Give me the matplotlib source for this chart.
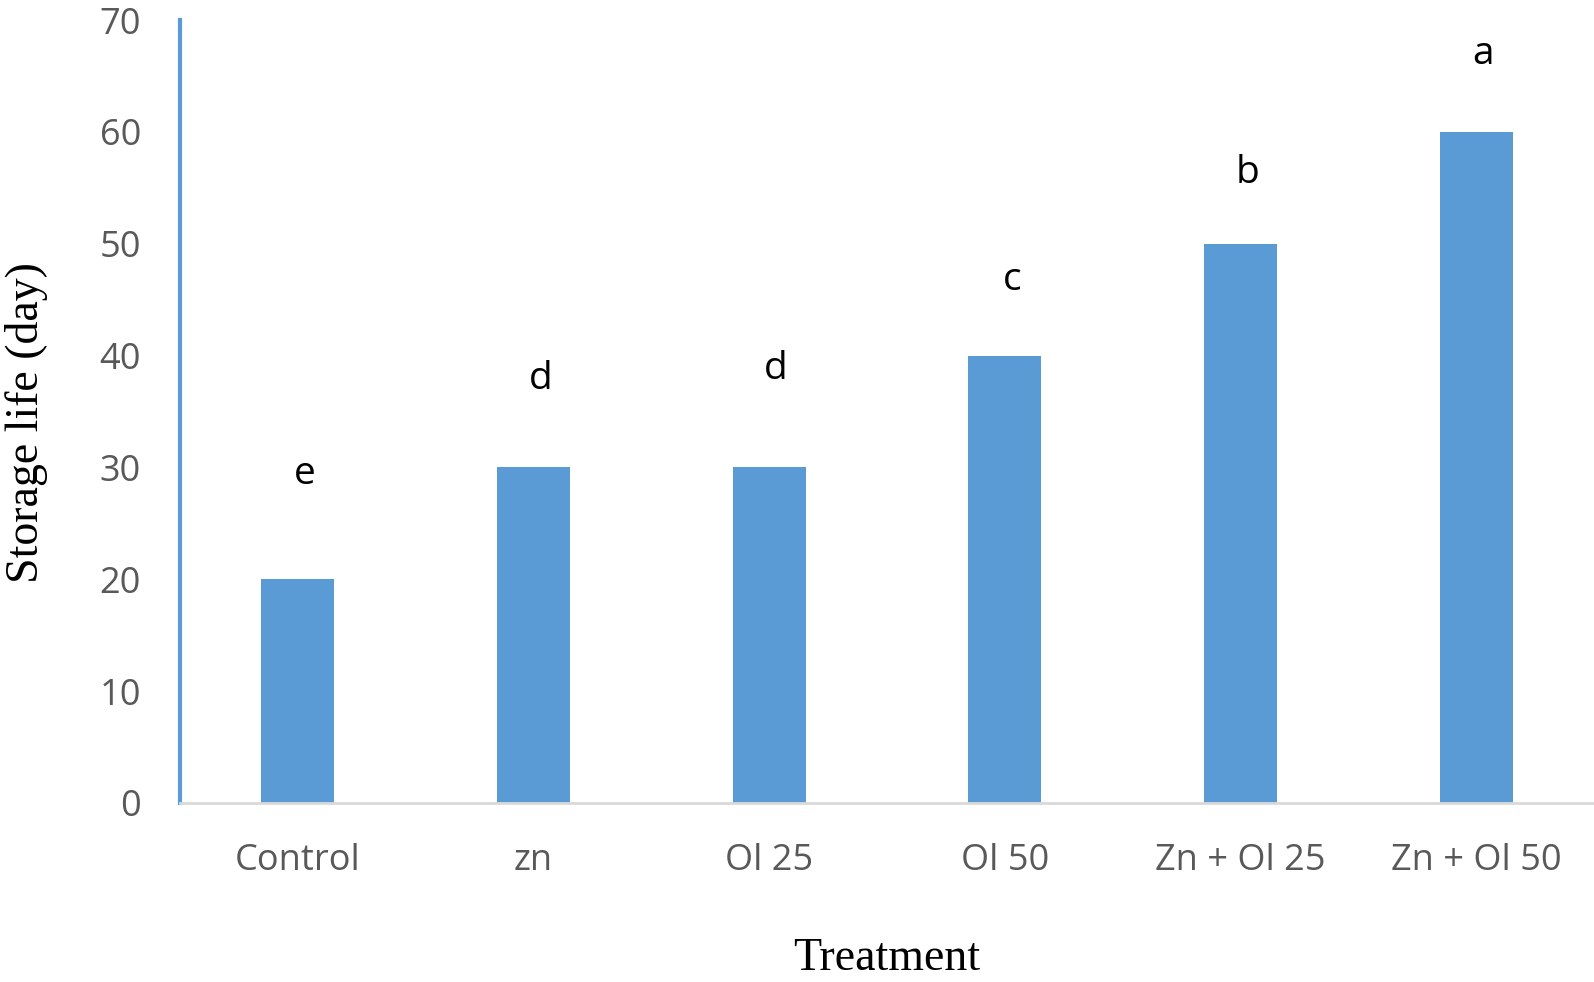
import matplotlib.pyplot as plt

treatments = ['Control', 'zn', 'Ol 25', 'Ol 50', 'Zn + Ol 25', 'Zn + Ol 50']
storage_life = [20, 30, 30, 40, 50, 60]
letters = ['e', 'd', 'd', 'c', 'b', 'a']
letter_y = [29.4, 37.9, 38.8, 46.8, 56.3, 67.0]

plt.close('all')
fig = plt.figure(figsize=(15.94, 9.82), dpi=100)
ax = fig.add_axes([180 / 1594, 1 - 803 / 982, 1 - 180 / 1594, 783 / 982])

x = range(len(treatments))
ax.bar(x, storage_life, width=0.31, color='#5b9bd5', zorder=2)

for i, (lab, ly) in enumerate(zip(letters, letter_y)):
    ax.text(i + 0.03, ly, lab, ha='center', va='center', fontsize=28,
            family='Open Sans', color='black')

ax.set_xlim(-0.5, 5.5)
ax.set_ylim(0, 70)
ax.set_yticks(range(0, 71, 10))
ax.set_xticks(list(x))
ax.set_xticklabels(treatments)
ax.tick_params(length=0, labelsize=26, labelcolor='#595959')
ax.tick_params(axis='y', pad=28)
ax.tick_params(axis='x', pad=29)
for lab in ax.get_xticklabels() + ax.get_yticklabels():
    lab.set_family('Open Sans')

for s in ['top', 'right']:
    ax.spines[s].set_visible(False)
ax.spines['left'].set_color('#5b9bd5')
ax.spines['left'].set_linewidth(3)
ax.spines['bottom'].set_color('#d9d9d9')
ax.spines['bottom'].set_linewidth(2)

ax.set_xlabel('Treatment', family='Liberation Serif', fontsize=33, labelpad=42)
ax.set_ylabel('Storage life (day)', family='Liberation Serif', fontsize=33)
ax.yaxis.set_label_coords(-0.093, 0.486)

fig.savefig('out.png')
